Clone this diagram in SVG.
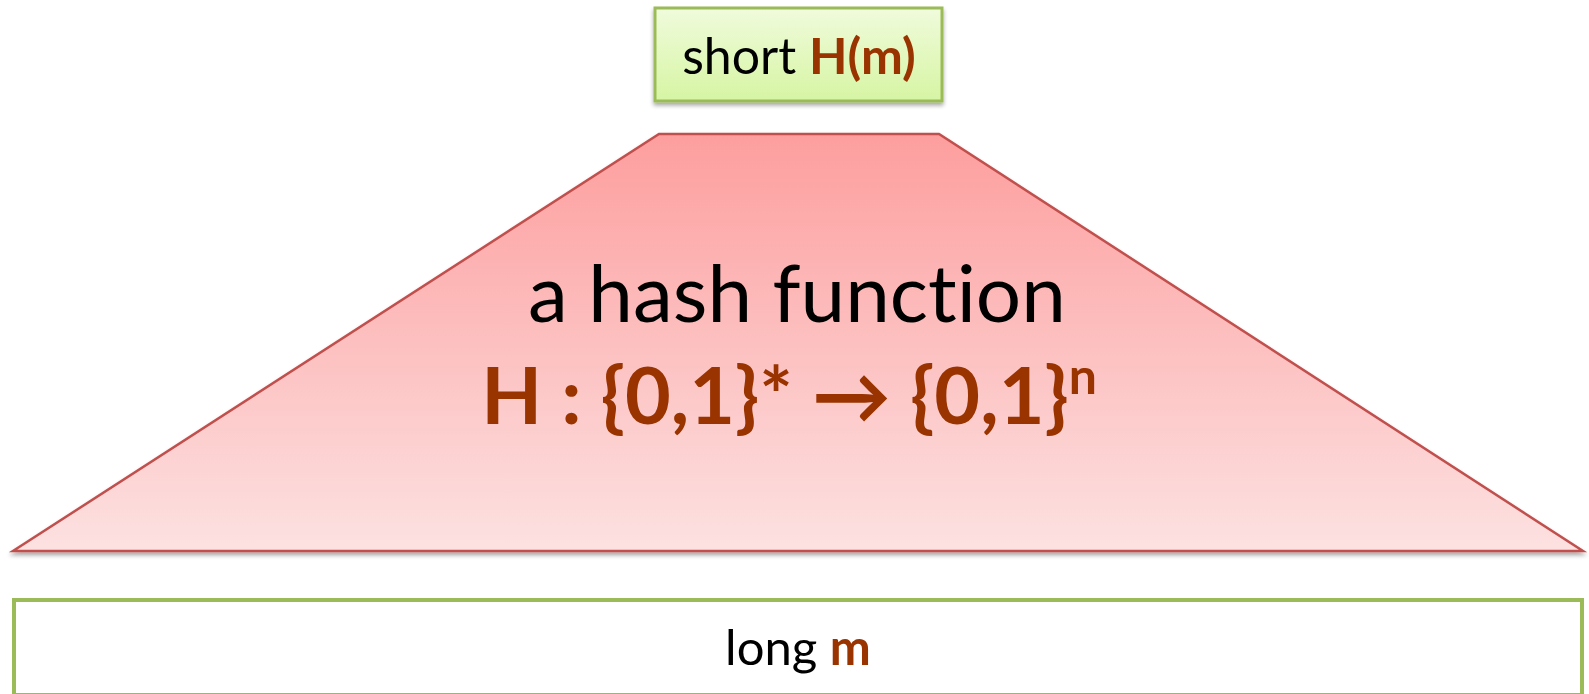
<svg xmlns="http://www.w3.org/2000/svg" width="1589" height="694" viewBox="0 0 1589 694">
<style>
.t{font-family:Lato,"Open Sans","Liberation Sans",sans-serif;fill:#000;font-variant-ligatures:none}
.b{font-weight:bold;fill:#993300}
</style>
<defs>
<linearGradient id="gg" x1="0" y1="0" x2="0" y2="1">
<stop offset="0" stop-color="#f0fbdc"/>
<stop offset="1" stop-color="#d6f5a3"/>
</linearGradient>
<linearGradient id="rg" x1="0" y1="0" x2="0" y2="1">
<stop offset="0" stop-color="#fd9e9e"/>
<stop offset="1" stop-color="#fde1e1"/>
</linearGradient>
<filter id="sh" x="-5%" y="-5%" width="110%" height="120%">
<feGaussianBlur in="SourceAlpha" stdDeviation="2"/>
<feOffset dx="0" dy="3"/>
<feComponentTransfer><feFuncA type="linear" slope="0.35"/></feComponentTransfer>
<feMerge><feMergeNode/><feMergeNode in="SourceGraphic"/></feMerge>
</filter>
</defs>
<rect width="1589" height="694" fill="#fff"/>
<g id="top">
<rect x="655" y="8" width="287" height="93" fill="url(#gg)" stroke="#9bbb59" stroke-width="3" filter="url(#sh)"/>
<text class="t" x="799" y="74" font-size="50" text-anchor="middle">short <tspan class="b">H(m)</tspan></text>
</g>
<g id="hash">
<polygon points="659,134 939,134 1583,551 13,551" fill="url(#rg)" stroke="#c0504d" stroke-width="2.5" filter="url(#sh)"/>
<text class="t" x="797" y="322" font-size="80" text-anchor="middle">a hash function</text>
<text class="t b" x="789" y="424" font-size="79" text-anchor="middle">H : {0,1}* → {0,1}<tspan font-size="50" dy="-30">n</tspan></text>
</g>
<g id="bottom">
<rect x="14" y="600" width="1568" height="95" fill="#fff" stroke="#9bbb59" stroke-width="4"/>
<text class="t" x="798" y="665" font-size="49" text-anchor="middle">long <tspan class="b">m</tspan></text>
</g>
</svg>
